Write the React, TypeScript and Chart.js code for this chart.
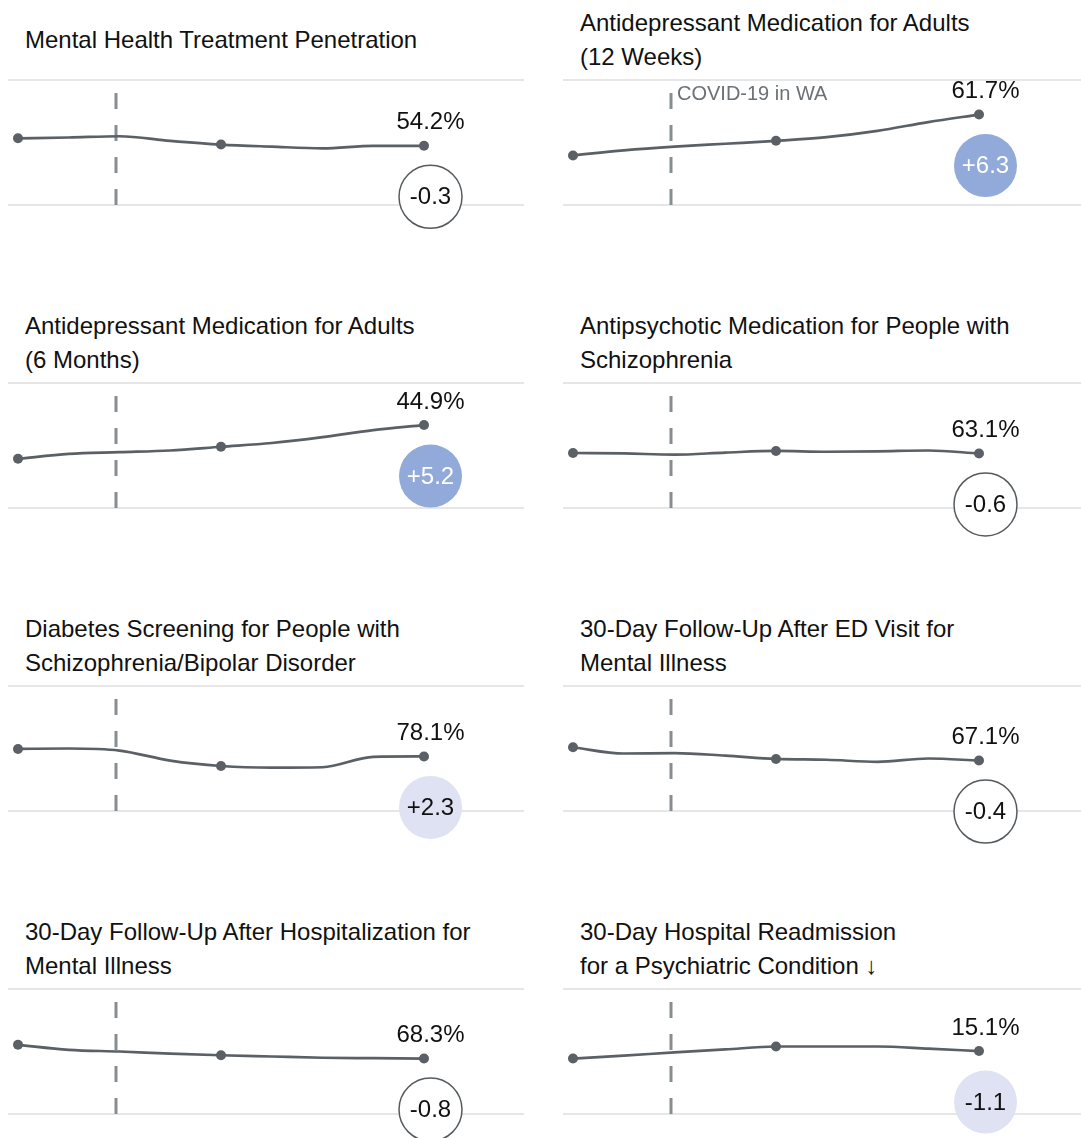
import React, { useEffect, useRef } from "react";
import { Chart, registerables } from "chart.js";

Chart.register(...registerables);

// ---------- data ----------
const titles = [
  "Mental Health Treatment Penetration",
  "Antidepressant Medication for Adults\n(12 Weeks)",
  "Antidepressant Medication for Adults\n(6 Months)",
  "Antipsychotic Medication for People with\nSchizophrenia",
  "Diabetes Screening for People with\nSchizophrenia/Bipolar Disorder",
  "30-Day Follow-Up After ED Visit for\nMental Illness",
  "30-Day Follow-Up After Hospitalization for\nMental Illness",
  "30-Day Hospital Readmission\nfor a Psychiatric Condition \u2193",
];

const periods = [0, 1, 2, 3, 4, 5, 6, 7, 8];
const markedPoints = [0, 4, 8];
const covidPosition = 1.93;
const covidLabel = "COVID-19 in WA";

const treatmentPenetration = [56.0, 56.2, 56.5, 55.4, 54.5, 54.0, 53.6, 54.2, 54.2];
const antidepressant12w = [51.9, 53.1, 54.0, 54.7, 55.4, 56.3, 57.8, 59.9, 61.7];
const antidepressant6m = [36.8, 38.0, 38.4, 38.8, 39.7, 40.6, 42.0, 43.7, 44.9];
const antipsychotic = [63.2, 63.1, 62.8, 63.3, 63.7, 63.5, 63.6, 63.8, 63.1];
const diabetesScreening = [79.9, 80.0, 79.5, 77.1, 75.8, 75.4, 75.5, 78.0, 78.1];
const followUpED = [70.3, 68.8, 68.9, 68.3, 67.5, 67.3, 66.8, 67.6, 67.1];
const followUpHosp = [71.6, 70.4, 70.0, 69.5, 69.1, 68.8, 68.5, 68.4, 68.3];
const readmission = [13.3, 14.0, 14.8, 15.5, 16.2, 16.2, 16.2, 15.7, 15.1];

const seriesList = [
  treatmentPenetration,
  antidepressant12w,
  antidepressant6m,
  antipsychotic,
  diabetesScreening,
  followUpED,
  followUpHosp,
  readmission,
];

const yMins = [40, 40, 25, 50, 65, 55, 55, 0];
const yRange = 30;

const changes = ["-0.3", "+6.3", "+5.2", "-0.6", "+2.3", "-0.4", "-0.8", "-1.1"];
const changeKinds = ["none", "strong", "strong", "none", "mild", "none", "none", "mild"];
const showCovidLabel = [false, true, false, false, false, false, false, false];

// ---------- style / layout ----------
const FONT = "'Liberation Sans', Arial, Helvetica, sans-serif";
const LINE_COLOR = "#5a6065";
const RULE_COLOR = "#dedede";
const DASH_COLOR = "#878e92";
const TEXT_COLOR = "#111111";
const STRONG_FILL = "#91aad9";
const MILD_FILL = "#dfe2f3";

const COL_LEFT = [8, 563];
const COL_WIDTH = [516, 518];
const TITLE_LEFT = [25, 580];
const TOP_RULE0 = 80;
const ROW_STEP = 303;
const PLOT_H = 125;
const PAD_TOP = 12;
const PAD_BOTTOM = 50;
const PX_PER_STEP = 50.75;
const FIRST_OFFSET = 10;

function makeOverlay(idx: number) {
  return {
    id: "overlay" + idx,
    beforeDatasetsDraw(chart: any) {
      const { ctx, chartArea, scales } = chart;
      ctx.save();
      ctx.strokeStyle = RULE_COLOR;
      ctx.lineWidth = 1.5;
      [chartArea.top, chartArea.bottom].forEach((y: number) => {
        ctx.beginPath();
        ctx.moveTo(0, y);
        ctx.lineTo(chart.width, y);
        ctx.stroke();
      });
      const dx = Math.round(scales.x.getPixelForValue(covidPosition));
      ctx.strokeStyle = DASH_COLOR;
      ctx.lineWidth = 3;
      ctx.setLineDash([16, 16]);
      ctx.beginPath();
      ctx.moveTo(dx, chartArea.bottom);
      ctx.lineTo(dx, chartArea.top + 13);
      ctx.stroke();
      ctx.setLineDash([]);
      if (showCovidLabel[idx]) {
        ctx.fillStyle = "#6b7175";
        ctx.font = `20px ${FONT}`;
        ctx.textAlign = "left";
        ctx.textBaseline = "middle";
        ctx.fillText(covidLabel, dx + 6, chartArea.top + 14);
      }
      ctx.restore();
    },
    afterDatasetsDraw(chart: any) {
      const { ctx } = chart;
      const meta = chart.getDatasetMeta(0);
      const values = seriesList[idx];
      const last = meta.data[values.length - 1];
      const cx = last.x + 6.5;
      ctx.save();
      ctx.font = `24px ${FONT}`;
      ctx.textAlign = "center";
      ctx.textBaseline = "middle";
      ctx.fillStyle = TEXT_COLOR;
      ctx.fillText(values[values.length - 1].toFixed(1) + "%", cx, last.y - 23);

      const cy = last.y + 51;
      const kind = changeKinds[idx];
      ctx.beginPath();
      ctx.arc(cx, cy, 31.5, 0, Math.PI * 2);
      if (kind === "strong") {
        ctx.fillStyle = STRONG_FILL;
        ctx.fill();
      } else if (kind === "mild") {
        ctx.fillStyle = MILD_FILL;
        ctx.fill();
      } else {
        ctx.fillStyle = "#ffffff";
        ctx.fill();
        ctx.strokeStyle = "#555a5e";
        ctx.lineWidth = 1.5;
        ctx.stroke();
      }
      ctx.fillStyle = kind === "strong" ? "#ffffff" : TEXT_COLOR;
      ctx.fillText(changes[idx], cx, cy + 1);
      ctx.restore();
    },
  };
}

function Panel({ idx }: { idx: number }) {
  const ref = useRef<HTMLCanvasElement>(null);
  const col = idx % 2;
  const row = Math.floor(idx / 2);
  const topRule = TOP_RULE0 + row * ROW_STEP;
  const width = COL_WIDTH[col];
  const height = PAD_TOP + PLOT_H + PAD_BOTTOM;

  useEffect(() => {
    if (!ref.current) return;
    const values = seriesList[idx];
    const data = values.map((v, i) => ({ x: periods[i], y: v }));
    const radii = values.map((_, i) => (markedPoints.includes(i) ? 5 : 0));
    const xMin = -FIRST_OFFSET / PX_PER_STEP;
    const xMax = xMin + width / PX_PER_STEP;
    const chart = new Chart(ref.current, {
      type: "line",
      data: {
        datasets: [
          {
            data,
            borderColor: LINE_COLOR,
            backgroundColor: LINE_COLOR,
            borderWidth: 2.7,
            pointRadius: radii,
            pointHoverRadius: radii,
            pointBorderWidth: 0,
            cubicInterpolationMode: "monotone",
            fill: false,
            clip: false,
          } as any,
        ],
      },
      options: {
        animation: false,
        responsive: false,
        events: [],
        layout: {
          autoPadding: false,
          padding: { top: PAD_TOP, bottom: PAD_BOTTOM, left: 0, right: 0 },
        },
        scales: {
          x: { type: "linear", display: false, min: xMin, max: xMax },
          y: { type: "linear", display: false, min: yMins[idx], max: yMins[idx] + yRange },
        },
        plugins: { legend: { display: false }, tooltip: { enabled: false } },
      } as any,
      plugins: [makeOverlay(idx)],
    });
    return () => chart.destroy();
  }, [idx]);

  return (
    <>
      <div
        style={{
          position: "absolute",
          left: TITLE_LEFT[col],
          top: topRule - 80,
          height: 80,
          width: 500,
          display: "flex",
          alignItems: "center",
          fontFamily: FONT,
          fontSize: 24,
          lineHeight: "34px",
          color: TEXT_COLOR,
          whiteSpace: "pre-line",
        }}
      >
        {titles[idx]}
      </div>
      <canvas
        ref={ref}
        width={width}
        height={height}
        style={{
          position: "absolute",
          left: COL_LEFT[col],
          top: topRule - PAD_TOP,
          width,
          height,
        }}
      />
    </>
  );
}

export default function App() {
  return (
    <div
      style={{
        position: "fixed",
        left: 0,
        top: 0,
        width: 1081,
        height: 1138,
        overflow: "hidden",
        background: "#ffffff",
      }}
    >
      {seriesList.map((_, i) => (
        <Panel key={i} idx={i} />
      ))}
    </div>
  );
}
